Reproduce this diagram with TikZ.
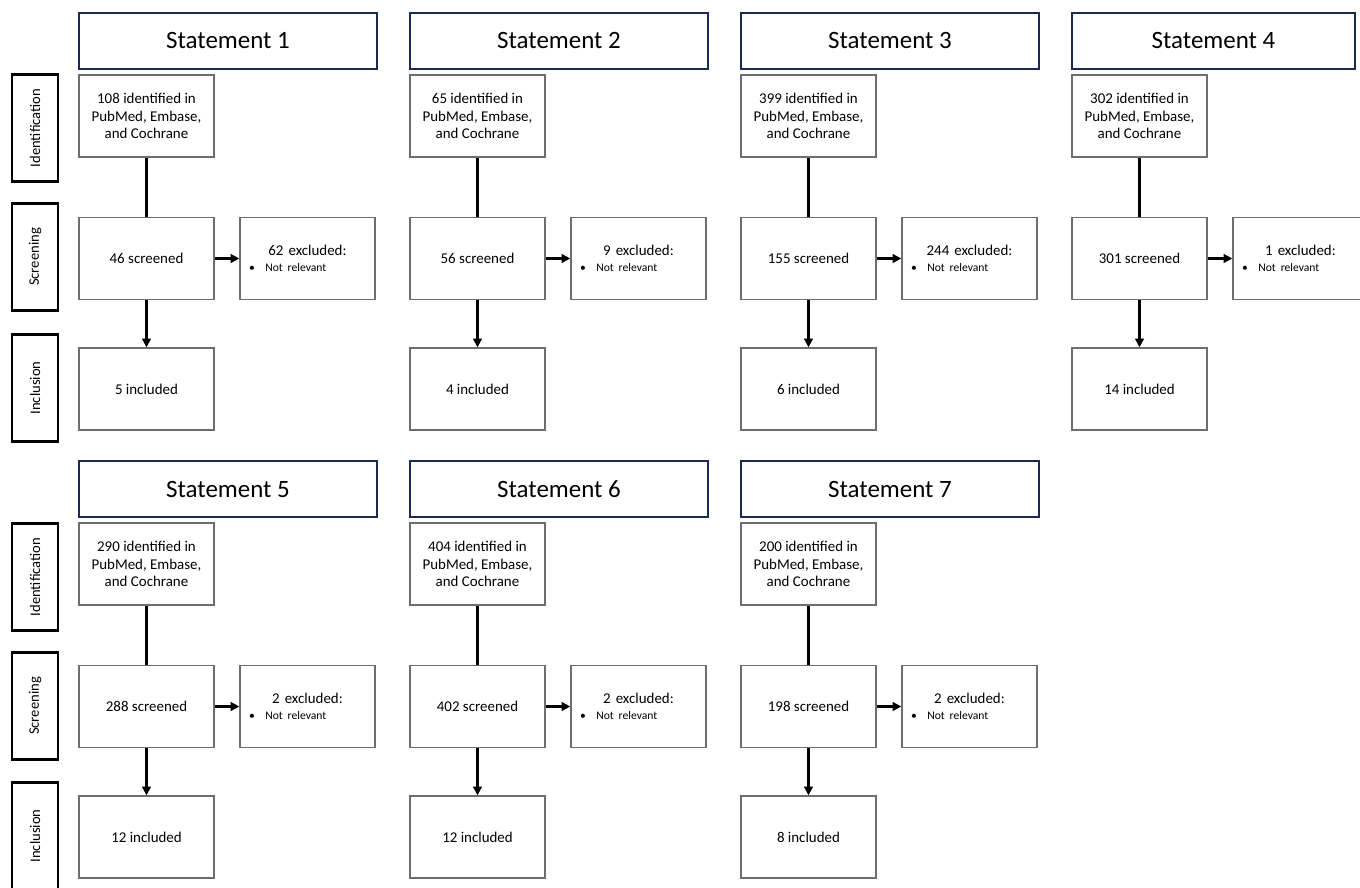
\documentclass[tikz,border=0pt]{standalone}
\usepackage{fontspec}
\setmainfont{Carlito}
\usepackage{xcolor}
\usetikzlibrary{arrows.meta}
\definecolor{navyframe}{HTML}{1C2A4E}
\definecolor{greyframe}{HTML}{6E6E6E}
\tikzset{
  every node/.append style={font=\rmfamily},
  headbox/.style={draw=navyframe, line width=1.5pt, minimum height=1.12cm,
    font=\fontsize{14.2}{17}\selectfont},
  stagebox/.style={draw=black, line width=1.7pt, rotate=90, minimum width=2.14cm,
    minimum height=0.92cm, font=\fontsize{8.3}{10}\selectfont},
  flowbox/.style={draw=greyframe, line width=0.8pt, minimum width=2.7cm,
    minimum height=1.64cm, align=center, font=\fontsize{8.5}{9.9}\selectfont},
  exclbox/.style={flowbox, text width=2.34cm, inner xsep=0.18cm},
  link/.style={draw=black, line width=1.5pt},
  linkarrow/.style={link, -{Triangle[length=5pt, width=5pt]}}
}

\begin{document}
\begin{tikzpicture}[x=0.02cm, y=-0.02cm]
    \useasboundingbox (0,0) rectangle (1360,888);
    \clip (0,0) rectangle (1360,888);

    % Stage labels on the left
    \foreach \lab/\yy [count=\k] in {Identification/128, Screening/257, Inclusion/388,
        Identification/577, Screening/706, Inclusion/836}
        \node[stagebox] (stage\k) at (35,\yy) {\lab};

    % One column per statement
    \foreach \n/\col/\row/\hw/\ide/\scr/\exc/\inc in {
        1/0/0/298/108/46/62/5, 2/1/0/298/65/56/9/4, 3/2/0/298/399/155/244/6,
        4/3/0/283/302/301/1/14, 5/0/1/298/290/288/2/12, 6/1/1/298/404/402/2/12,
        7/2/1/298/200/198/2/8}
    {
        \pgfmathsetmacro{\xo}{79+331*\col}
        \pgfmathsetmacro{\yo}{448*\row}
        \node[headbox, minimum width=\hw*0.02cm] (hd\n) at (\xo+\hw/2, \yo+41) {Statement \n};
        \node[flowbox] (id\n) at (\xo+67.5, \yo+116)
            {\ide{} identified in\\PubMed, Embase,\\and Cochrane};
        \node[flowbox] (sc\n) at (\xo+67.5, \yo+258.5) {\scr{} screened};
        \node[exclbox] (ex\n) at (\xo+228.5, \yo+258.5)
            {\raisebox{2pt}{\exc{} excluded:}\\[-3pt]
             \makebox[\linewidth][l]{\fontsize{6.6}{7}\selectfont\textbullet\hspace{2.1mm}Not relevant}};
        \node[flowbox] (in\n) at (\xo+67.5, \yo+389) {\inc{} included};

        \draw[link] (id\n) -- (sc\n);
        \draw[linkarrow] (sc\n) -- (in\n);
        \draw[linkarrow] (sc\n) -- (ex\n);
    }
\end{tikzpicture}
\end{document}
